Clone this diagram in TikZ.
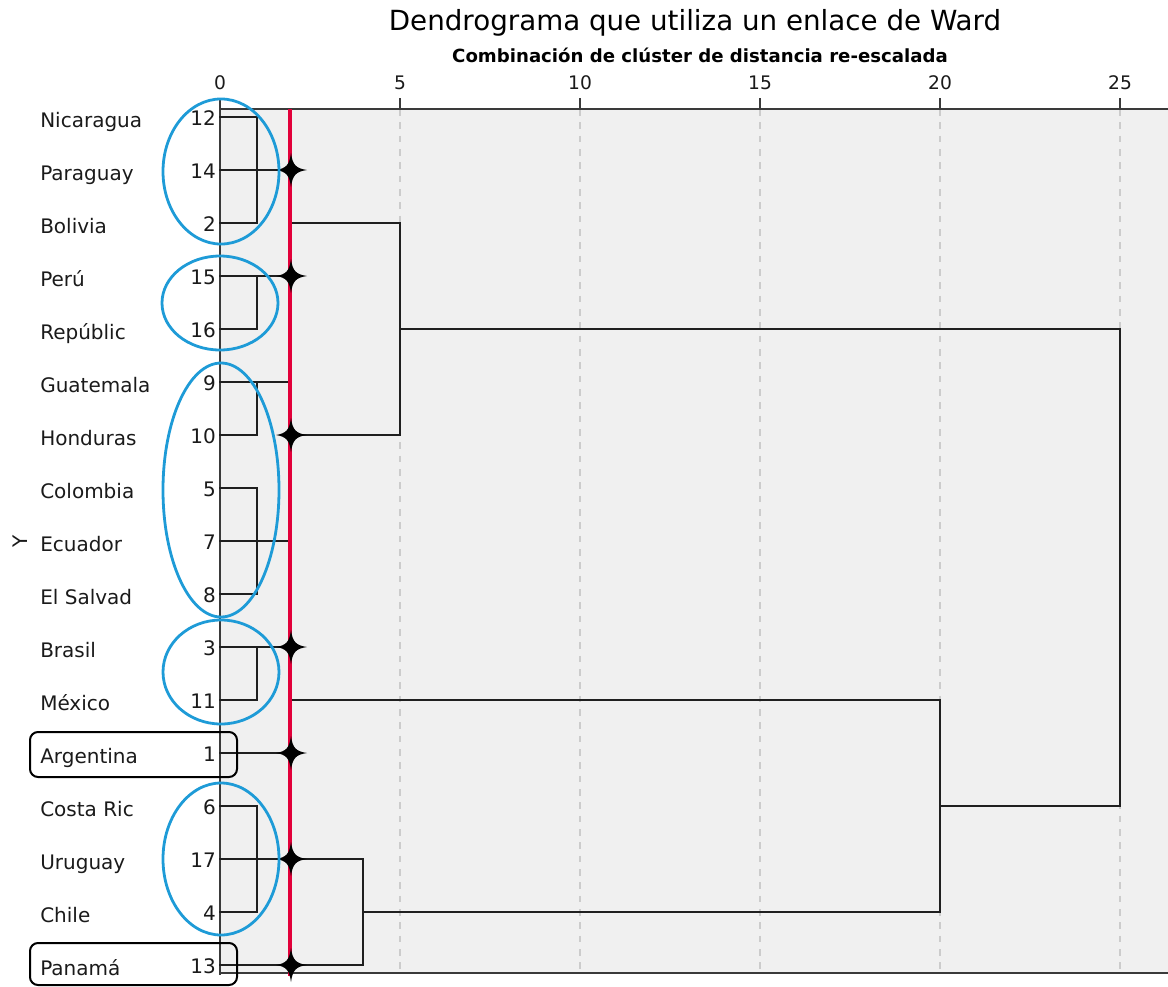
\documentclass[tikz,border=0pt]{standalone}
\usepackage{fontspec}
\setmainfont{DejaVu Sans}
\definecolor{plotbg}{HTML}{F0F0F0}
\definecolor{gridgray}{HTML}{CCCCCC}
\definecolor{cutred}{HTML}{E2003A}
\definecolor{clusblue}{HTML}{1E9BD7}
\definecolor{axisgray}{HTML}{3A3A3A}
\definecolor{txt}{HTML}{1A1A1A}
\begin{document}
\begin{tikzpicture}[x=0.75pt,y=-0.75pt,
  lab/.style={anchor=base west,inner sep=0pt,font=\fontsize{15}{18}\selectfont,text=txt},
  num/.style={anchor=base east,inner sep=0pt,font=\fontsize{15}{18}\selectfont,text=txt},
  ticklab/.style={anchor=base,inner sep=0pt,font=\fontsize{14}{16}\selectfont,text=txt},
  dend/.style={line width=1.8pt,draw=black!88,line cap=rect},
  gridline/.style={line width=1.5pt,draw=gridgray,dash pattern=on 5pt off 5pt},
  axisline/.style={line width=1.8pt,draw=axisgray},
  clus/.style={line width=2.1pt,draw=clusblue},
  framebox/.style={line width=1.5pt,draw=black,rounded corners=6pt},
  cut/.style={line width=2.4pt,draw=cutred},
  star4/.pic={\fill[black] (16,0) .. controls (5,1.6) and (1.6,5) .. (0,17) .. controls (-1.6,5) and (-5,1.6) .. (-15,0) .. controls (-5,-1.6) and (-1.6,-5) .. (0,-17) .. controls (1.6,-5) and (5,-1.6) .. (16,0) -- cycle;}]
\useasboundingbox (0,0) rectangle (1168,986);
% plot area
\fill[plotbg] (220,109) rectangle (1168,973);
% grid
\foreach \gx in {400,580,760,940,1120} \draw[gridline] (\gx,109) -- (\gx,973);
% axes
\draw[axisline] (220,109) -- (1168,109);
\draw[axisline] (220,973) -- (1168,973);
\draw[axisline] (220,98) -- (220,975);
\foreach \gx in {400,580,760,940,1120} \draw[axisline] (\gx,98) -- (\gx,109);
% tick labels
\node[ticklab] (t0) at (220,89) {0};
\node[ticklab] (t5) at (400,89) {5};
\node[ticklab] (t10) at (580,89) {10};
\node[ticklab] (t15) at (760,89) {15};
\node[ticklab] (t20) at (940,89) {20};
\node[ticklab] (t25) at (1120,89) {25};
% titles
\node[anchor=base,inner sep=0pt,font=\fontsize{20.8}{24}\selectfont] (title) at (695,30) {Dendrograma que utiliza un enlace de Ward};
\node[anchor=base,inner sep=0pt,font=\bfseries\fontsize{13.6}{16}\selectfont] (subtitle) at (700,62) {Combinación de clúster de distancia re-escalada};
% leaves
\coordinate (l0) at (220,117);
\coordinate (l1) at (220,170);
\coordinate (l2) at (220,223);
\coordinate (l3) at (220,276);
\coordinate (l4) at (220,329);
\coordinate (l5) at (220,382);
\coordinate (l6) at (220,435);
\coordinate (l7) at (220,488);
\coordinate (l8) at (220,541);
\coordinate (l9) at (220,594);
\coordinate (l10) at (220,647);
\coordinate (l11) at (220,700);
\coordinate (l12) at (220,753);
\coordinate (l13) at (220,806);
\coordinate (l14) at (220,859);
\coordinate (l15) at (220,912);
\coordinate (l16) at (220,965);
% join coordinates
\coordinate (a1t) at (257,117); \coordinate (a1b) at (257,223);
\coordinate (a2t) at (257,276); \coordinate (a2b) at (257,329);
\coordinate (b1t) at (257,382); \coordinate (b1b) at (257,435);
\coordinate (b2t) at (257,488); \coordinate (b2b) at (257,594);
\coordinate (c1t) at (257,647); \coordinate (c1b) at (257,700);
\coordinate (d1t) at (257,806); \coordinate (d1b) at (257,912);
\coordinate (A) at (290,170); \coordinate (Ab) at (290,276);
\coordinate (B) at (290,382); \coordinate (Bb) at (290,541);
\coordinate (C) at (290,647); \coordinate (Cb) at (290,753);
\coordinate (D) at (363,859); \coordinate (Db) at (363,965);
\coordinate (AB) at (400,223); \coordinate (ABb) at (400,435);
\coordinate (CD) at (940,700); \coordinate (CDb) at (940,912);
\coordinate (R) at (1120,329); \coordinate (Rb) at (1120,806);
% dendrogram
\draw[dend] (l0) -- (a1t) -- (a1b) -- (l2);
\draw[dend] (l1) -- (A);
\draw[dend] (l3) -- (a2t) -- (a2b) -- (l4);
\draw[dend] (l3) -- (Ab);
\draw[dend] (A) -- (Ab);
\draw[dend] (l5) -- (b1t) -- (b1b) -- (l6);
\draw[dend] (l5) -- (B);
\draw[dend] (l7) -- (b2t) -- (b2b) -- (l9);
\draw[dend] (l8) -- (Bb);
\draw[dend] (B) -- (Bb);
\draw[dend] (290,223) -- (AB) -- (ABb) -- (290,435);
\draw[dend] (l10) -- (c1t) -- (c1b) -- (l11);
\draw[dend] (l10) -- (C);
\draw[dend] (l12) -- (Cb);
\draw[dend] (C) -- (Cb);
\draw[dend] (l13) -- (d1t) -- (d1b) -- (l15);
\draw[dend] (l14) -- (D) -- (Db) -- (l16);
\draw[dend] (290,700) -- (CD) -- (CDb) -- (D |- CDb);
\draw[dend] (400,329) -- (R) -- (Rb) -- (940,806);
% cut line
\draw[cut] (290,109) -- (290,976);
% stars
\foreach \sy in {170,276,435,647,753,859,965} \pic at (291,\sy) {star4};
% cluster ellipses
\draw[clus] (221,171.5) ellipse [x radius=43.5pt, y radius=54.4pt];
\draw[clus] (220,303) ellipse [x radius=43.5pt, y radius=35.25pt];
\draw[clus] (221,490) ellipse [x radius=43.5pt, y radius=95.25pt];
\draw[clus] (221,672) ellipse [x radius=43.5pt, y radius=39pt];
\draw[clus] (221,859) ellipse [x radius=43.5pt, y radius=57pt];
% boxes
\draw[framebox] (30,732) rectangle (237,777);
\draw[framebox] (30,943) rectangle (237,985);
% labels
\node[lab] (n0) at (40,127.5) {Nicaragua};
\node[lab] (n1) at (40,180.5) {Paraguay};
\node[lab] (n2) at (40,233.5) {Bolivia};
\node[lab] (n3) at (40,286.5) {Perú};
\node[lab] (n4) at (40,339.5) {Repúblic};
\node[lab] (n5) at (40,392.5) {Guatemala};
\node[lab] (n6) at (40,445.5) {Honduras};
\node[lab] (n7) at (40,498.5) {Colombia};
\node[lab] (n8) at (40,551.5) {Ecuador};
\node[lab] (n9) at (40,604.5) {El Salvad};
\node[lab] (n10) at (40,657.5) {Brasil};
\node[lab] (n11) at (40,710.5) {México};
\node[lab] (n12) at (40,763.5) {Argentina};
\node[lab] (n13) at (40,816.5) {Costa Ric};
\node[lab] (n14) at (40,869.5) {Uruguay};
\node[lab] (n15) at (40,922.5) {Chile};
\node[lab] (n16) at (40,975.5) {Panamá};
\node[num] (k0) at (216,125) {12};
\node[num] (k1) at (216,178) {14};
\node[num] (k2) at (216,231) {2};
\node[num] (k3) at (216,284) {15};
\node[num] (k4) at (216,337) {16};
\node[num] (k5) at (216,390) {9};
\node[num] (k6) at (216,443) {10};
\node[num] (k7) at (216,496) {5};
\node[num] (k8) at (216,549) {7};
\node[num] (k9) at (216,602) {8};
\node[num] (k10) at (216,655) {3};
\node[num] (k11) at (216,708) {11};
\node[num] (k12) at (216,761) {1};
\node[num] (k13) at (216,814) {6};
\node[num] (k14) at (216,867) {17};
\node[num] (k15) at (216,920) {4};
\node[num] (k16) at (216,973) {13};
\node[rotate=90,inner sep=0pt,font=\fontsize{15}{18}\selectfont,text=txt] (yaxis) at (20,541) {Y};
\end{tikzpicture}
\end{document}
